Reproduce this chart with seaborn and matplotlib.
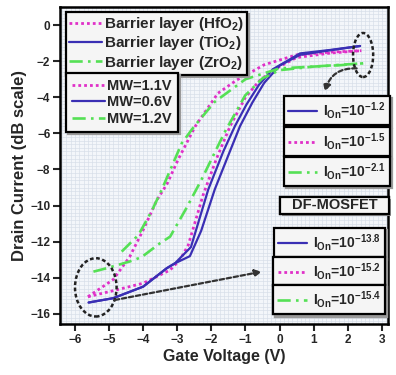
import pandas as pd
import seaborn as sns
import matplotlib.pyplot as plt
import matplotlib.patheffects as pe
from matplotlib.patches import Ellipse, Rectangle
from matplotlib.lines import Line2D
from matplotlib.ticker import MultipleLocator

# values: two sweeps per barrier layer (hysteresis loop)
hfo2_fwd_v = [-5.62, -4.88, -4.4, -4.0, -3.6, -3.3, -2.98, -2.48, -1.81, -1.26, -0.78, -0.45, 0.5, 1.5, 2.4]
hfo2_fwd_i = [-15.05, -14.1, -12.85, -11.35, -9.7, -8.8, -7.47, -5.63, -3.78, -3.05, -2.55, -2.2, -1.65, -1.5, -1.42]
hfo2_rev_v = [-5.62, -4.78, -4.0, -3.21, -2.92, -2.68, -2.24, -1.85, -1.45, -1.0, -0.6, -0.2, 0.5, 1.5, 2.4]
hfo2_rev_i = [-15.05, -14.67, -14.3, -13.57, -13.0, -12.2, -9.4, -7.4, -5.6, -4.0, -3.1, -2.5, -1.8, -1.55, -1.42]

tio2_fwd_v = [-5.6, -4.88, -4.0, -3.31, -3.07, -2.6, -2.09, -1.65, -1.31, -0.97, -0.6, -0.2, 0.6, 1.48, 2.36]
tio2_fwd_i = [-15.37, -15.13, -14.49, -13.47, -13.2, -12.3, -9.1, -7.0, -5.6, -4.4, -3.3, -2.45, -1.57, -1.38, -1.16]
tio2_rev_v = [-5.6, -4.88, -4.0, -3.31, -3.07, -2.63, -2.3, -1.9, -1.5, -1.16, -0.8, -0.45, 0.0, 0.6, 1.48, 2.36]
tio2_rev_i = [-15.37, -15.13, -14.49, -13.47, -13.2, -12.8, -11.4, -9.1, -7.2, -5.6, -4.3, -3.2, -2.25, -1.65, -1.4, -1.16]

zro2_fwd_v = [-4.63, -4.14, -3.75, -3.46, -2.87, -2.5, -1.9, -1.0, 0.0, 1.0, 1.8, 2.45]
zro2_fwd_i = [-12.55, -11.63, -10.3, -9.14, -6.55, -5.6, -4.25, -3.0, -2.4, -2.3, -2.2, -2.12]
zro2_rev_v = [-5.46, -5.07, -4.4, -4.05, -3.51, -3.21, -2.75, -2.3, -1.6, -1.01, -0.5, 0.0, 1.0, 1.8, 2.45]
zro2_rev_i = [-13.66, -13.47, -13.1, -12.86, -12.09, -11.72, -10.2, -8.6, -5.9, -3.9, -2.95, -2.5, -2.3, -2.22, -2.12]

materials = ["HfO2", "TiO2", "ZrO2"]
layer_labels = ["Barrier layer (HfO$_2$)", "Barrier layer (TiO$_2$)", "Barrier layer (ZrO$_2$)"]
mw_labels = ["MW=1.1V", "MW=0.6V", "MW=1.2V"]
ion_high = ["-1.2", "-1.5", "-2.1"]
ion_low = ["-13.8", "-15.2", "-15.4"]

colors = {"HfO2": "#e030c8", "TiO2": "#3a2fb4", "ZrO2": "#55e055"}
styles = {"HfO2": (0, (1, 1.1)), "TiO2": "-", "ZrO2": (0, (5, 2, 1, 2))}
widths = {"HfO2": 2.0, "TiO2": 1.6, "ZrO2": 1.9}

sweeps = {
    "HfO2": [(hfo2_fwd_v, hfo2_fwd_i), (hfo2_rev_v, hfo2_rev_i)],
    "TiO2": [(tio2_fwd_v, tio2_fwd_i), (tio2_rev_v, tio2_rev_i)],
    "ZrO2": [(zro2_fwd_v, zro2_fwd_i), (zro2_rev_v, zro2_rev_i)],
}
rows = []
for mat, pairs in sweeps.items():
    for k, (vs, cs) in enumerate(pairs):
        for v, c in zip(vs, cs):
            rows.append({"material": mat, "sweep": k, "V": v, "I": c})
df = pd.DataFrame(rows)

sns.set_theme(style="ticks")
plt.rcParams["font.family"] = ["Liberation Sans", "DejaVu Sans"]
plt.rcParams["font.weight"] = "bold"
plt.rcParams["axes.labelweight"] = "bold"
plt.rcParams["mathtext.fontset"] = "custom"
plt.rcParams["mathtext.rm"] = "Liberation Sans:bold"
plt.rcParams["mathtext.it"] = "Liberation Sans:bold"
plt.rcParams["mathtext.bf"] = "Liberation Sans:bold"
plt.rcParams["mathtext.default"] = "rm"

fig = plt.figure(figsize=(3.96, 3.75), dpi=100)
ax = fig.add_axes([60 / 396, 1 - 324 / 375, 328 / 396, 317 / 375])
ax.set_facecolor("#f3f6fa")

for mat in materials:
    sns.lineplot(data=df[df["material"] == mat], x="V", y="I", units="sweep",
                 estimator=None, sort=False, color=colors[mat], lw=widths[mat],
                 linestyle=styles[mat], legend=False, ax=ax, zorder=3)

ax.set_xlim(-6.44, 3.18)
ax.set_ylim(-16.56, 1.0)
ax.set_xticks(range(-6, 4))
ax.set_yticks(range(-16, 1, 2))
ax.xaxis.set_minor_locator(MultipleLocator(0.125))
ax.yaxis.set_minor_locator(MultipleLocator(0.2))
ax.grid(which="both", color="#d6dee8", lw=0.45)
ax.set_axisbelow(True)
ax.tick_params(which="major", direction="out", length=5, width=1.5, labelsize=8.5, pad=2)
ax.tick_params(which="minor", length=0)
for s in ax.spines.values():
    s.set_linewidth(1.8)
    s.set_color("black")
ax.set_xlabel("Gate Voltage (V)", fontsize=11.5, labelpad=2)
ax.set_ylabel("Drain Current (dB scale)", fontsize=12, labelpad=2)


def handle(mat):
    return Line2D([], [], color=colors[mat], lw=widths[mat], linestyle=styles[mat])


def box_legend(hs, labels, anchor, loc, fs, **kw):
    leg = ax.legend(hs, labels, loc=loc, bbox_to_anchor=anchor, frameon=True,
                    fancybox=False, shadow={"ox": 1.6, "oy": -1.6, "color": "#9a9a9a", "alpha": 1},
                    edgecolor="black", facecolor="#f5f5f5", framealpha=1, borderaxespad=0,
                    prop={"weight": "bold", "size": fs}, **kw)
    leg.get_frame().set_linewidth(1.6)
    leg.set_zorder(6)
    ax.add_artist(leg)
    return leg


hs = [handle(m) for m in materials]
box_legend(hs, layer_labels, (0.018, 0.984), "upper left", 11,
           handlelength=2.15, handletextpad=0.15, borderpad=0.2, labelspacing=0.08)
box_legend(hs, mw_labels, (0.018, 0.792), "upper left", 10.5,
           handlelength=2.25, handletextpad=0.2, borderpad=0.4, labelspacing=0.18)

# single entry boxes on the right
tops_high = [0.719, 0.621, 0.527]
for mat, ion, top in zip(["TiO2", "HfO2", "ZrO2"], ion_high, tops_high):
    box_legend([handle(mat)], [f"$I_{{On}}$=10$^{{{ion}}}$"], (1.006, top), "upper right", 10,
               handlelength=2.1, handletextpad=0.45, borderpad=0.3)
tops_low = [0.303, 0.211, 0.123]
for mat, ion, top in zip(["TiO2", "HfO2", "ZrO2"], ion_low, tops_low):
    box_legend([handle(mat)], [f"$I_{{On}}$=10$^{{{ion}}}$"], (0.991, top), "upper right", 10,
               handlelength=2.1, handletextpad=0.45, borderpad=0.3)

shadow = [pe.withSimplePatchShadow(offset=(1.6, -1.6), shadow_rgbFace="#9a9a9a", alpha=1), pe.Normal()]
rect = Rectangle((0.671, 0.347), 0.332, 0.054, transform=ax.transAxes, fc="#f5f5f5",
                 ec="black", lw=1.6, clip_on=False, zorder=6, path_effects=shadow)
ax.add_patch(rect)
ax.text(0.671 + 0.166, 0.347 + 0.027, "DF-MOSFET", transform=ax.transAxes, ha="center",
        va="center", fontsize=10.5, weight="bold", zorder=7)

# dashed callouts
ax.add_patch(Ellipse((2.45, -1.66), 0.59, 2.44, fill=False, ec="#222222", lw=1.8,
                     linestyle=(0, (1.5, 1)), zorder=4))
ax.add_patch(Ellipse((-5.39, -14.53), 1.22, 3.23, fill=False, ec="#222222", lw=1.8,
                     linestyle=(0, (1.5, 1)), zorder=4))
ax.annotate("", xy=(1.33, -3.7), xytext=(2.26, -2.4),
            arrowprops=dict(arrowstyle="-|>", color="#333333", lw=1.6, linestyle=(0, (2, 1.2)),
                            connectionstyle="arc3,rad=0.4", shrinkA=0, shrinkB=0, mutation_scale=10),
            zorder=4)
ax.annotate("", xy=(-0.52, -13.66), xytext=(-4.83, -15.23),
            arrowprops=dict(arrowstyle="-|>", color="#333333", lw=1.6, linestyle=(0, (2, 1.2)),
                            shrinkA=0, shrinkB=0, mutation_scale=10),
            zorder=4)

fig.savefig("out.png", dpi=100)
